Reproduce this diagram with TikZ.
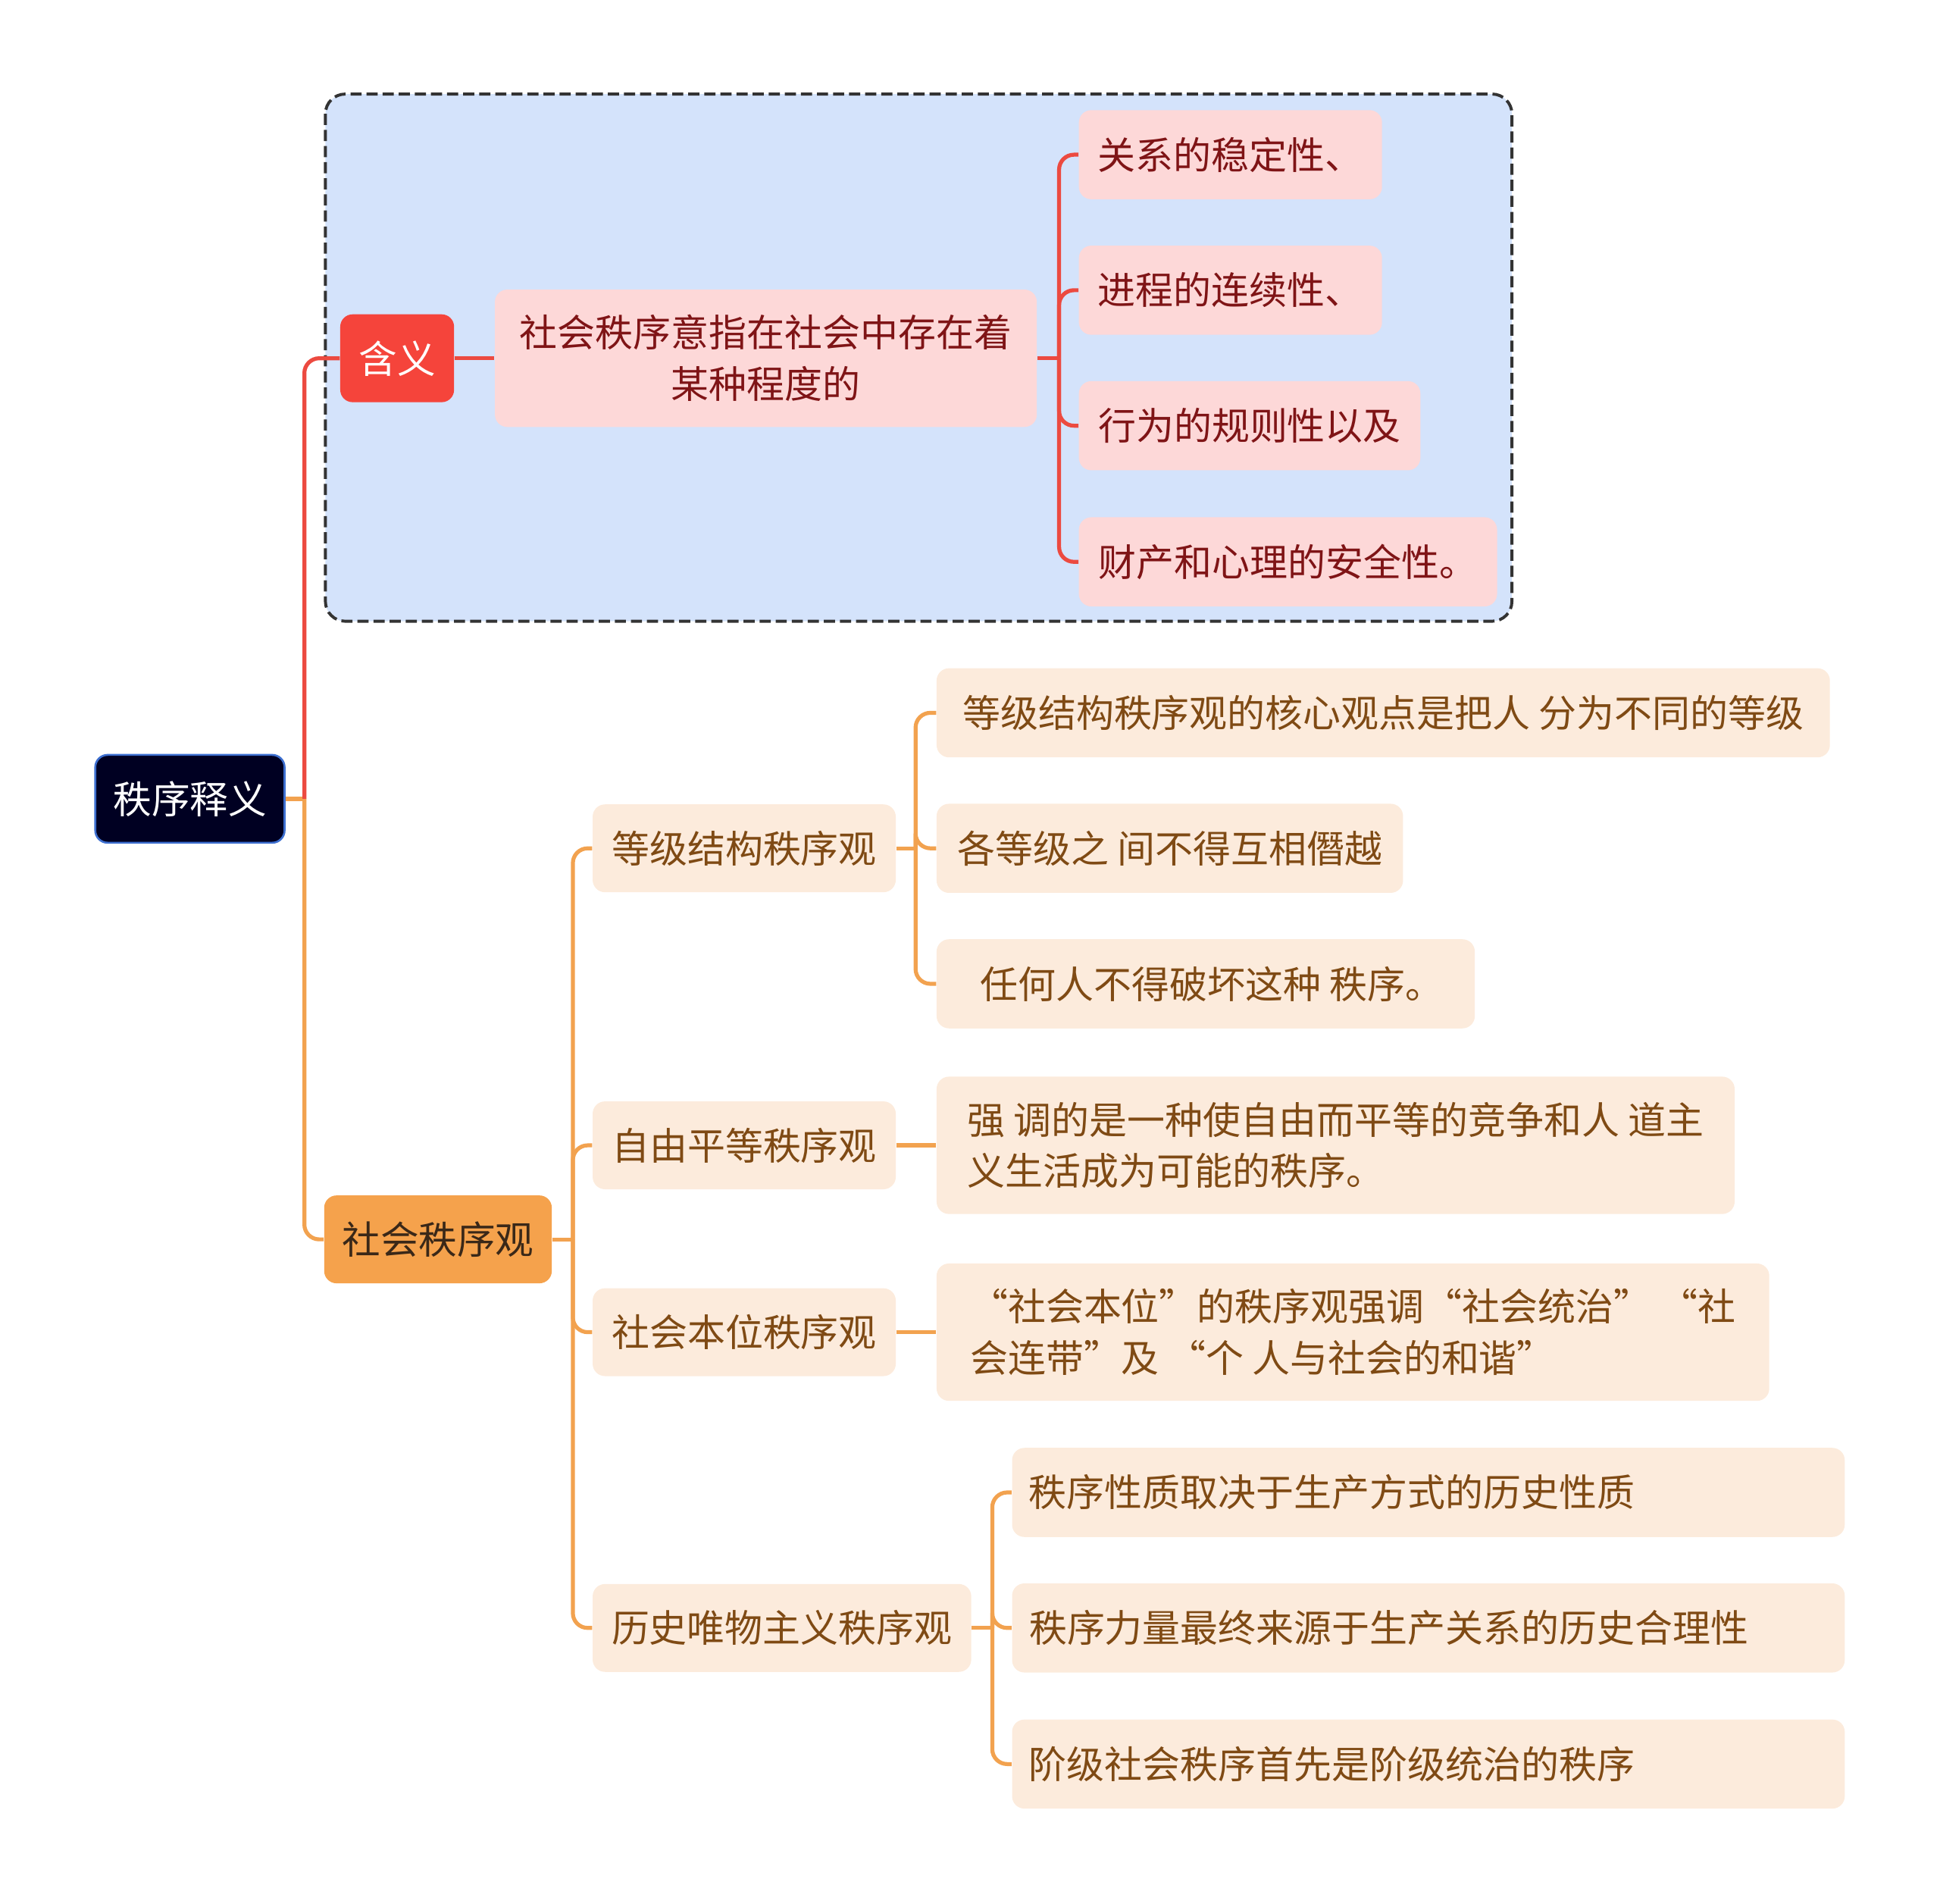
\documentclass[tikz,border=0pt]{standalone}
\usepackage{fontspec}
\setmainfont{Noto Sans CJK SC}
\definecolor{boxfill}{HTML}{D4E3FB}
\definecolor{boxline}{HTML}{333333}
\definecolor{rootfill}{HTML}{000022}
\definecolor{rootline}{HTML}{3D6FD0}
\definecolor{redfill}{HTML}{F5443B}
\definecolor{pinkfill}{HTML}{FDD8D8}
\definecolor{redtext}{HTML}{7F1416}
\definecolor{redline}{HTML}{EC4A40}
\definecolor{orfill}{HTML}{F5A24C}
\definecolor{ortext}{HTML}{3A2818}
\definecolor{lightor}{HTML}{FCEBDC}
\definecolor{browntext}{HTML}{7F4A14}
\definecolor{orline}{HTML}{F2A24F}
\def\uu{0.5pt}
\tikzset{
  base/.style={rounded corners=5pt, inner sep=0pt, font=\fontsize{15.3}{20.8}\selectfont, align=left},
  rootbox/.style={base, fill=rootfill, draw=rootline, line width=0.8pt, text=white, font=\fontsize{15.5}{21}\selectfont},
  redbox/.style={base, fill=redfill, text=white, font=\fontsize{15.5}{21}\selectfont},
  pinkbox/.style={base, fill=pinkfill, text=redtext},
  orbox/.style={base, fill=orfill, text=ortext, font=\fontsize{15.5}{21}\selectfont},
  ltbox/.style={base, fill=lightor, text=browntext},
  redconn/.style={draw=redline, line width=1.6pt, rounded corners=6pt},
  orconn/.style={draw=orline, line width=1.6pt, rounded corners=6pt},
}
\begin{document}
\begin{tikzpicture}[x=0.5pt,y=-0.5pt]
\useasboundingbox (0,0) rectangle (1568,1538);
% dashed group box
\draw[fill=boxfill, draw=boxline, dash pattern=on 4.5pt off 2pt, line width=1.2pt, rounded corners=8pt] (263,76) rectangle (1222,502);

% nodes
\node[rootbox, minimum width=153*\uu, minimum height=71*\uu] (root) at (153.5,645.5) {秩序释义};
\node[redbox, minimum width=92*\uu, minimum height=71*\uu] (hy) at (321,289.5) {含义};
\node[pinkbox, minimum width=438*\uu, minimum height=111*\uu, align=center] (def) at (619,289.5) {社会秩序意指在社会中存在着\\某种程度的};
\node[pinkbox, minimum width=245*\uu, minimum height=72*\uu] (a1) at (994.5,125) {关系的稳定性、};
\node[pinkbox, minimum width=245*\uu, minimum height=72*\uu] (a2) at (994.5,234.5) {进程的连续性、};
\node[pinkbox, minimum width=276*\uu, minimum height=72*\uu] (a3) at (1010,344) {行为的规则性以及};
\node[pinkbox, minimum width=338*\uu, minimum height=72*\uu] (a4) at (1041,454) {财产和心理的安全性。};

\node[orbox, minimum width=184*\uu, minimum height=71*\uu] (shx) at (354,1001.5) {社会秩序观};
\node[ltbox, minimum width=245*\uu, minimum height=71*\uu] (b1) at (601.5,685.5) {等级结构秩序观};
\node[ltbox, minimum width=722*\uu, minimum height=72*\uu] (b11) at (1118,576) {等级结构秩序观的核心观点是把人 分为不同的等级};
\node[ltbox, minimum width=377*\uu, minimum height=72*\uu] (b12) at (945.5,685.5) {各等级之 间不得互相僭越};
\node[ltbox, minimum width=435*\uu, minimum height=72*\uu] (b13) at (974.5,795) {\hspace{5pt}任何人不得破坏这种 秩序。};
\node[ltbox, minimum width=245*\uu, minimum height=71*\uu] (b2) at (601.5,925.5) {自由平等秩序观};
\node[ltbox, minimum width=645*\uu, minimum height=111*\uu] (b21) at (1079.5,925.5) {强 调的是一种使自由而平等的竞争和人 道主\\义生活成为可能的秩序。};
\node[ltbox, minimum width=245*\uu, minimum height=71*\uu] (b3) at (601.5,1076.5) {社会本位秩序观};
\node[ltbox, minimum width=673*\uu, minimum height=111*\uu] (b31) at (1093.5,1076.5) {“社会本位”的秩序观强调“社会统治” “社\\会连带”及 “个 人与社会的和谐”};
\node[ltbox, minimum width=306*\uu, minimum height=71*\uu] (b4) at (632,1315.5) {历史唯物主义秩序观};
\node[ltbox, minimum width=673*\uu, minimum height=72*\uu] (b41) at (1154.5,1206) {秩序性质取决于生产方式的历史性质\hspace{78pt}};
\node[ltbox, minimum width=673*\uu, minimum height=72*\uu] (b42) at (1154.5,1315.5) {秩序力量最终来源于生产关系的历史合理性\hspace{32pt}};
\node[ltbox, minimum width=673*\uu, minimum height=72*\uu] (b43) at (1154.5,1425.5) {阶级社会秩序首先是阶级统治的秩序\hspace{78pt}};

% junction coordinates
\coordinate (jr) at (246,645.5);
\coordinate (jd) at (856,289.5);
\coordinate (js) at (463,1001.5);
\coordinate (j1) at (740,685.5);
\coordinate (j4) at (802,1315.5);

% connectors
\draw[orconn] (root.east) -- (jr);
\draw[orconn] (jr) |- (shx.west);
\draw[redconn] (jr) |- (hy.west);
\draw[redconn] (hy.east) -- (def.west);
\draw[redconn] (def.east) -- (jd);
\foreach \n in {a1,a2,a3,a4} \draw[redconn] (jd) |- (\n.west);

\draw[orconn] (shx.east) -- (js);
\foreach \n in {b1,b2,b3,b4} \draw[orconn] (js) |- (\n.west);
\draw[orconn] (b1.east) -- (j1);
\foreach \n in {b11,b12,b13} \draw[orconn] (j1) |- (\n.west);
\draw[orconn] (b2.east) -- (b21.west);
\draw[orconn] (b3.east) -- (b31.west);
\draw[orconn] (b4.east) -- (j4);
\foreach \n in {b41,b42,b43} \draw[orconn] (j4) |- (\n.west);
\end{tikzpicture}
\end{document}
